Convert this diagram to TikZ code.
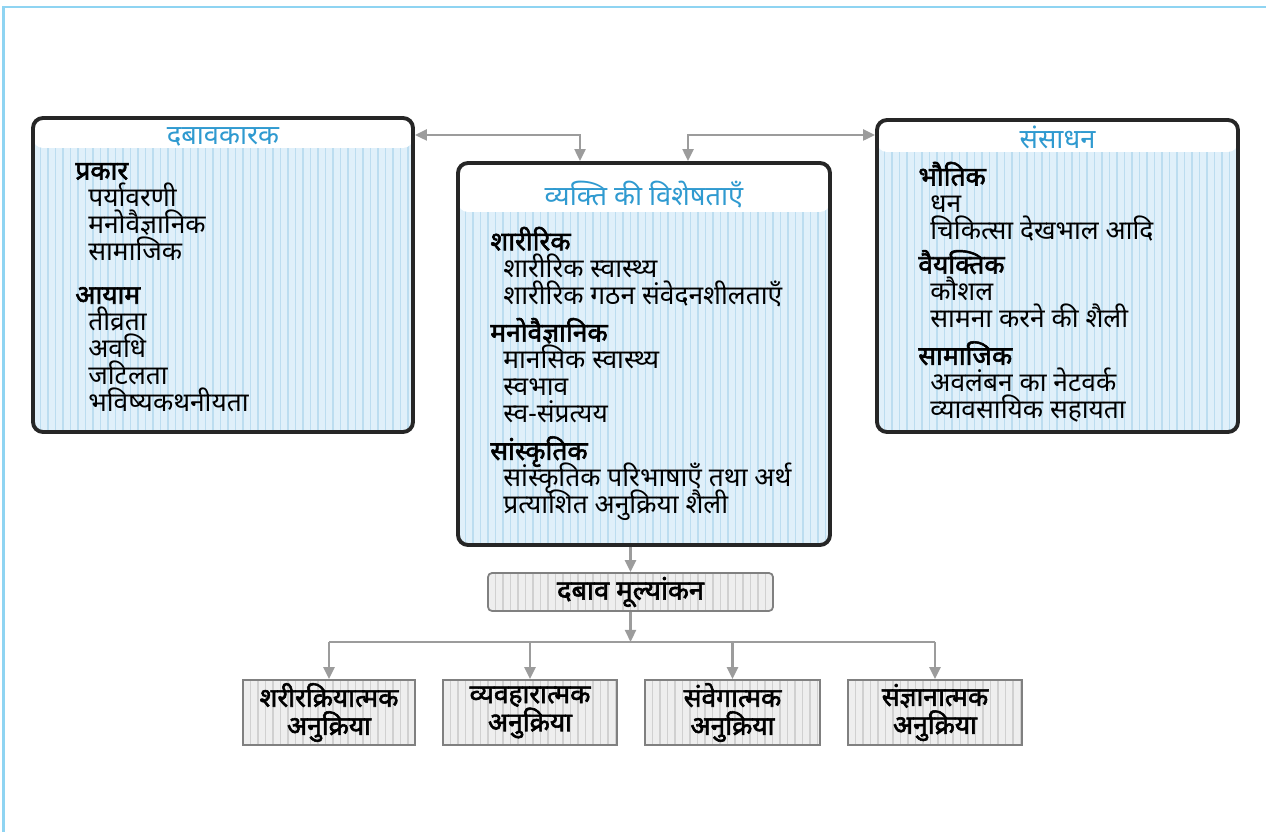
\documentclass[tikz,border=0pt]{standalone}
\usepackage{fontspec}
\newfontfamily\dev[Script=Devanagari]{Noto Sans}
\newfontfamily\devb[Script=Devanagari, FakeBold=2.2]{Noto Sans}
\usetikzlibrary{arrows.meta,positioning}
\newcommand\listfont{\dev\fontsize{15}{15.4}\selectfont
  \lineskiplimit=-20pt\relax\lineskip=0pt\relax}

\definecolor{framebl}{HTML}{8FD4F2}
\definecolor{titlebl}{HTML}{2F9AD0}
\definecolor{bodybl}{HTML}{E0F0FA}
\definecolor{stripebl}{HTML}{BCDDF0}
\definecolor{arrowgr}{HTML}{9C9C9C}
\definecolor{boxgr}{HTML}{EEEEEE}
\definecolor{stripegr}{HTML}{D0D0D0}

\tikzset{
  >={Triangle[length=0.24cm,width=0.22cm]},
  bigbox/.style={draw=black!85, line width=2.2pt, rounded corners=0.2cm,
    inner sep=0pt, fill=bodybl,
    path picture={
      \foreach \i in {0,...,55}
        \draw[stripebl, line width=0.6pt]
          ([xshift=\i*0.15cm]path picture bounding box.south west) --
          ([xshift=\i*0.15cm]path picture bounding box.north west);
      \fill[white] ([yshift=-#1]path picture bounding box.north west)
        rectangle (path picture bounding box.north east);
    }},
  graybox/.style={draw=black!50, line width=1pt, fill=boxgr, inner sep=0pt,
    font=\devb\fontsize{15}{16}\selectfont, align=center,
    path picture={
      \foreach \i in {0,...,40}
        \draw[stripegr, line width=0.6pt]
          ([xshift=\i*0.15cm]path picture bounding box.south west) --
          ([xshift=\i*0.15cm]path picture bounding box.north west);
    }},
  titletext/.style={font=\dev\fontsize{15.5}{16}\selectfont, text=titlebl},
  listtext/.style={font=\listfont, align=left, inner sep=0pt, anchor=base west},
  conn/.style={draw=arrowgr, line width=1.3pt}
}

\begin{document}
\begin{tikzpicture}
  \useasboundingbox (0,0) rectangle (25.32,16.64);
  % Frame of the page
  \draw[framebl, line width=1.2pt] (0.07,0) -- (0.07,16.5) -- (25.32,16.5);

  % The three main boxes (lists are placed by their last line)
  \node[bigbox=0.6cm, minimum width=7.6cm, minimum height=6.28cm] (stress) at (4.46,11.14) {};
  \node[titletext] (stresstitle) at ([yshift=-0.42cm]stress.north) {दबावकारक};
  \node[listtext] (stresslist) at (1.5,8.4) {%
    {\devb प्रकार}\\
    \hspace*{0.26cm}पर्यावरणी\\
    \hspace*{0.26cm}मनोवैज्ञानिक\\
    \hspace*{0.26cm}सामाजिक\\[0.32cm]
    {\devb आयाम}\\
    \hspace*{0.26cm}तीव्रता\\
    \hspace*{0.26cm}अवधि\\
    \hspace*{0.26cm}जटिलता\\
    \hspace*{0.26cm}भविष्यकथनीयता};

  \node[bigbox=0.98cm, minimum width=7.44cm, minimum height=7.64cm] (person) at (12.88,9.56) {};
  \node[titletext] (persontitle) at ([yshift=-0.68cm]person.north) {व्यक्ति की विशेषताएँ};
  \node[listtext] (personlist) at (9.8,6.36) {%
    {\devb शारीरिक}\\
    \hspace*{0.26cm}शारीरिक स्वास्थ्य\\
    \hspace*{0.26cm}शारीरिक गठन संवेदनशीलताएँ\\[0.2cm]
    {\devb मनोवैज्ञानिक}\\
    \hspace*{0.26cm}मानसिक स्वास्थ्य\\
    \hspace*{0.26cm}स्वभाव\\
    \hspace*{0.26cm}स्व-संप्रत्यय\\[0.2cm]
    {\devb सांस्कृतिक}\\
    \hspace*{0.26cm}सांस्कृतिक परिभाषाएँ तथा अर्थ\\
    \hspace*{0.26cm}प्रत्याशित अनुक्रिया शैली};

  \node[bigbox=0.64cm, minimum width=7.22cm, minimum height=6.24cm] (res) at (21.15,11.12) {};
  \node[titletext] (restitle) at ([yshift=-0.38cm]res.north) {संसाधन};
  \node[listtext] (reslist) at (18.36,8.26) {%
    {\devb भौतिक}\\
    \hspace*{0.24cm}धन\\
    \hspace*{0.24cm}चिकित्सा देखभाल आदि\\[0.14cm]
    {\devb वैयक्तिक}\\
    \hspace*{0.24cm}कौशल\\
    \hspace*{0.24cm}सामना करने की शैली\\[0.2cm]
    {\devb सामाजिक}\\
    \hspace*{0.24cm}अवलंबन का नेटवर्क\\
    \hspace*{0.24cm}व्यावसायिक सहायता};

  % Appraisal and the four responses
  \node[graybox, rounded corners=0.08cm, minimum width=5.7cm, minimum height=0.76cm,
    font=\devb\fontsize{15.5}{16}\selectfont] (appr) at (12.61,4.8) {दबाव मूल्यांकन};
  \node[graybox, minimum width=3.44cm, minimum height=1.3cm] (r1) at (6.58,2.39) {शरीरक्रियात्मक\\अनुक्रिया};
  \node[graybox, minimum width=3.48cm, minimum height=1.3cm] (r2) at (10.6,2.39) {व्यवहारात्मक\\अनुक्रिया};
  \node[graybox, minimum width=3.5cm, minimum height=1.3cm] (r3) at (14.65,2.39) {संवेगात्मक\\अनुक्रिया};
  \node[graybox, minimum width=3.48cm, minimum height=1.3cm] (r4) at (18.7,2.39) {संज्ञानात्मक\\अनुक्रिया};

  % Connectors
  \coordinate (jl) at (11.6,13.94);
  \coordinate (jr) at (13.76,13.94);
  \coordinate (split) at (12.61,3.8);
  \draw[conn,<->] (jl -| stress.east) -- (jl) -- (jl |- person.north);
  \draw[conn,<->] (jr |- person.north) -- (jr) -- (jr -| res.west);
  \draw[conn,->] (appr.north |- person.south) -- (appr.north);
  \draw[conn,->] (appr.south) -- (split);
  \draw[conn] (split -| r1.north) -- (split -| r4.north);
  \foreach \n in {r1,r2,r3,r4}
    \draw[conn,->] (split -| \n.north) -- (\n.north);
\end{tikzpicture}
\end{document}
